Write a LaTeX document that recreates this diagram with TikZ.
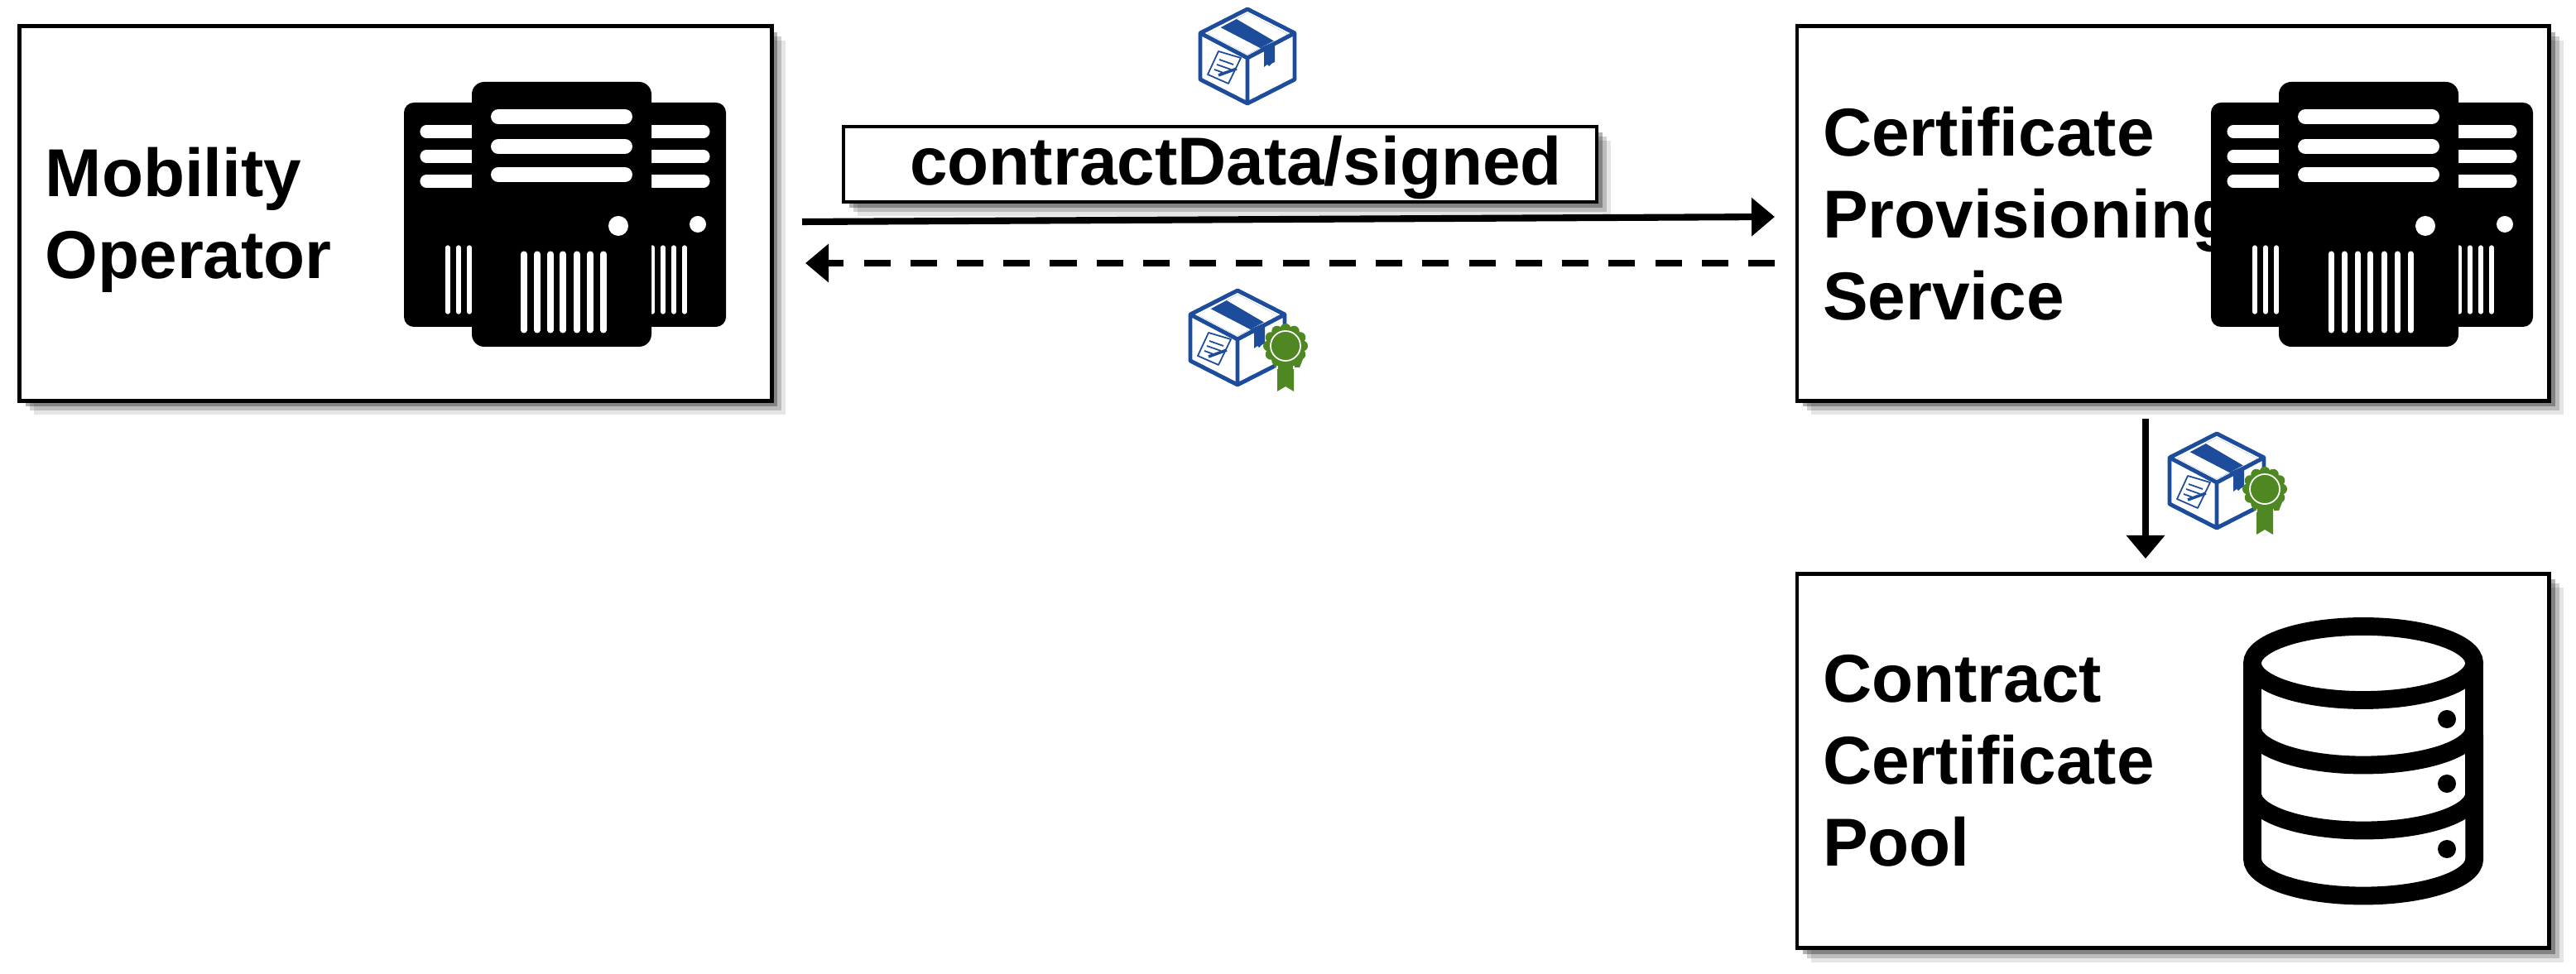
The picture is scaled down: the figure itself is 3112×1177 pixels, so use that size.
\documentclass[tikz,border=0pt]{standalone}
\usepackage{fontspec}
\setmainfont{Liberation Sans}
\usetikzlibrary{arrows.meta, positioning, shadows}

\definecolor{parcelblue}{HTML}{1D4C9B}
\definecolor{medalgreen}{HTML}{4F8722}

\tikzset{
    softshadow/.style={
        drop shadow={shadow xshift=0.17cm, shadow yshift=-0.17cm, fill=black, opacity=0.10},
        drop shadow={shadow xshift=0.12cm, shadow yshift=-0.12cm, fill=black, opacity=0.18},
        drop shadow={shadow xshift=0.07cm, shadow yshift=-0.07cm, fill=black, opacity=0.30}},
    box/.style={rectangle, draw, line width=1.4pt, fill=white, softshadow, outer sep=0pt, inner xsep=0.31cm,
        text width=8.46cm, minimum height=4.52cm, align=left, font=\fontsize{23.3}{28.2}\selectfont\bfseries},
    flag/.style={rectangle, draw, line width=1.1pt, fill=white, softshadow, outer sep=0pt, minimum width=9.10cm,
        minimum height=0.91cm, inner sep=0pt, text height=0.6cm, text depth=0.1cm, font=\fontsize{23.3}{28}\selectfont\bfseries},
    arrow/.style={-{Triangle[length=0.28cm, width=0.45cm]}, line width=2.3pt},
    server/.pic={
        \fill[rounded corners=0.12cm] (-190,-135) rectangle (199,136);
        \foreach \y in {-100,-70,-40} {
            \draw[white, line width=4.3pt, line cap=round] (-163,\y) -- (-100,\y);
            \draw[white, line width=4.3pt, line cap=round] (172,\y) -- (100,\y);
        }
        \foreach \x in {-137,-124,-111}
            \draw[white, line width=1.5pt, line cap=round] (\x,40) -- (\x,118);
        \foreach \x in {110,123,136,149}
            \draw[white, line width=1.5pt, line cap=round] (\x,40) -- (\x,118);
        \fill[rounded corners=0.15cm] (-108,-160) rectangle (109,160);
        \foreach \y in {-118,-82,-48}
            \draw[white, line width=5.1pt, line cap=round] (-76,\y) -- (77,\y);
        \fill[white] (69,14) circle (0.12cm);
        \fill[white] (165,12) circle (0.10cm);
        \foreach \x in {-45,-29,-13,2,19,35,51}
            \draw[white, line width=2pt, line cap=round] (\x,48) -- (\x,140);
    },
    parcel/.pic={
        \fill[parcelblue] (-47,-27) -- (0,-52) -- (48,-27) -- (0,-2) -- cycle;
        \fill[white] (-47,-27) -- (-33,-35) -- (15,-10) -- (0,-2) -- cycle;
        \fill[white] (-13,-45) -- (0,-52) -- (48,-27) -- (33,-18) -- cycle;
        \fill[parcelblue] (15,-10) -- (20,-7) -- (20,13) -- (24,10) -- (26,12) -- (29,9) -- (33,7) -- (33,-18) -- cycle;
        \draw[parcelblue, line width=1.4pt, line join=round]
            (0,-57) -- (57,-28) -- (57,28) -- (0,57) -- (-57,28) -- (-57,-28) -- cycle
            (-57,-28) -- (0,2) -- (57,-28) (0,2) -- (0,57);
        \draw[parcelblue, line width=0.5pt, line join=round]
            (-35,-6) -- (-8,2) -- (-23,33) -- (-48,22) -- cycle
            (-34,4) -- (-17,10) (-37,10) -- (-20,16) (-40,16) -- (-29,20);
        \draw[parcelblue, line width=1pt] (-35,23) -- (-13,15);
    },
    medal/.pic={
        \fill[medalgreen] (41,26) -- (45,36) -- (75,36) -- (79,26) -- cycle;
        \fill[medalgreen] (48,26) -- (48,65) -- (58,59) -- (68,65) -- (68,26) -- cycle;
        \draw[white, line width=0.3pt] (48,33) -- (48,38) (68,33) -- (68,38);
        \foreach \a in {0,30,...,330}
            \fill[medalgreen] (58,10) ++(\a:0.205cm) circle (0.065cm);
        \fill[medalgreen] (58,10) circle (0.225cm);
        \draw[white, line width=0.5pt] (58,10) circle (0.18cm);
    }
}

\begin{document}
\begin{tikzpicture}[x=0.01cm, y=-0.01cm]
\useasboundingbox (0,0) rectangle (3112,1177);

% Boxes
\node[box] (operator) at (478,258) {Mobility\\Operator\vspace{-0.16cm}};
\node[box, right=12.38cm of operator] (provisioning) {Certificate\\Provisioning\\Service};
\node[box, below=2.09cm of provisioning] (pool) {Contract\\Certificate\\Pool};
\node[flag] (contractdata) at (1474,198.5) {\hspace{0.38cm}contractData/signed};

% Arrow ends
\coordinate (opsend) at (969,268);
\coordinate (opback) at (973,318);
\coordinate (provsend) at (2144,262);
\coordinate (provback) at (2144,318);
\coordinate (provdown) at (2592,506);
\coordinate (pooltop) at (2592,675);

% Arrows
\draw[arrow] (opsend) -- (provsend);
\draw[arrow, dash pattern=on 0.32cm off 0.242cm] (provback) -- (opback);
\draw[arrow] (provdown) -- (pooltop);

% Icons
\pic at (678,259) {server};
\pic at (2861,259) {server};
\pic at (1507,68) {parcel};
\pic at (1495,408) {parcel};
\pic at (1495,408) {medal};
\pic at (2678,581) {parcel};
\pic at (2678,581) {medal};

% Database
\draw[line width=6.2pt] (2855,801.5) ellipse (1.34cm and 0.445cm);
\draw[line width=6.2pt] (2721,801) -- (2721,1038) arc[start angle=180, end angle=360, x radius=1.34cm, y radius=0.445cm] -- (2989,801);
\draw[line width=6.2pt] (2721,880) arc[start angle=180, end angle=360, x radius=1.34cm, y radius=0.445cm];
\draw[line width=6.2pt] (2721,959) arc[start angle=180, end angle=360, x radius=1.34cm, y radius=0.445cm];
\foreach \y in {869,947,1026}
    \fill (2956,\y) circle (0.11cm);

\end{tikzpicture}
\end{document}
